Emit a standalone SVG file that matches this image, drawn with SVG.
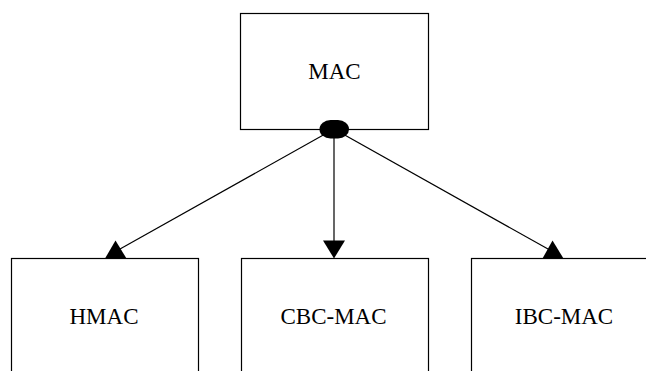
<svg xmlns="http://www.w3.org/2000/svg" width="646" height="371" viewBox="0 0 646 371">
  <style>
    .box { fill: #ffffff; stroke: #000000; stroke-width: 1.2; }
    .label { font-family: "Liberation Serif", "Times New Roman", serif; font-size: 23px; fill: #000000; text-anchor: middle; }
    .edge { stroke: #000000; stroke-width: 1.2; fill: none; }
    .head { fill: #000000; stroke: none; }
  </style>
  <rect width="646" height="371" fill="#ffffff"/>

  <g id="mac">
    <rect class="box" x="240.5" y="13.5" width="188" height="116"/>
    <text class="label" x="334.5" y="79">MAC</text>
  </g>

  <g id="hmac">
    <rect class="box" x="11.5" y="258.5" width="187" height="130"/>
    <text class="label" x="104" y="324">HMAC</text>
  </g>

  <g id="cbc-mac">
    <rect class="box" x="241.5" y="258.5" width="187" height="130"/>
    <text class="label" x="333.5" y="324">CBC-MAC</text>
  </g>

  <g id="ibc-mac">
    <rect class="box" x="471.5" y="258.5" width="187" height="130"/>
    <text class="label" x="564" y="324">IBC-MAC</text>
  </g>

  <!-- fan-out connectors from the junction below MAC -->
  <g id="connectors">
    <line class="edge" x1="334" y1="129" x2="120" y2="249"/>
    <line class="edge" x1="334" y1="129" x2="334" y2="242"/>
    <line class="edge" x1="334" y1="129" x2="548" y2="249"/>
    <polygon class="head" points="115.5,240.5 105,258.5 126.5,258.5"/>
    <polygon class="head" points="323,240.5 345,240.5 334,258.5"/>
    <polygon class="head" points="552.5,240.5 542.5,258.5 563.5,258.5"/>
    <rect class="head" x="319.5" y="120" width="29.5" height="18.5" rx="11" ry="9"/>
  </g>
</svg>
